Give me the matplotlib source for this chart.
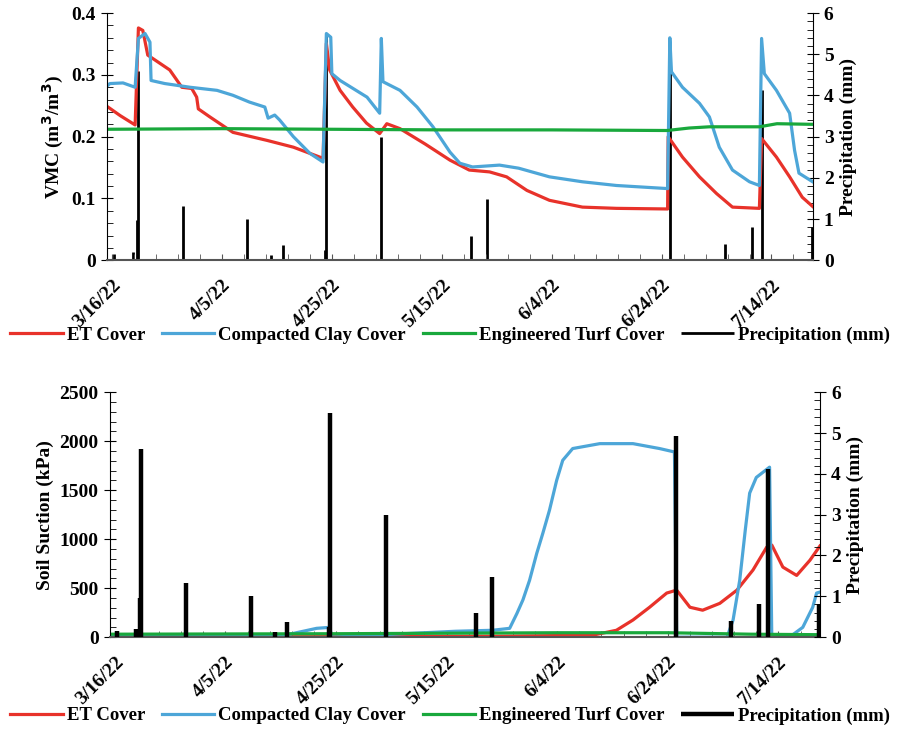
import numpy as np
import matplotlib
matplotlib.use("Agg")
import matplotlib.pyplot as plt
import matplotlib.dates as mdates
from matplotlib.ticker import MultipleLocator, FuncFormatter

plt.rcParams['font.family'] = ['Liberation Serif', 'DejaVu Serif']
plt.rcParams['font.weight'] = 'bold'

start = np.datetime64('2022-03-16T00:00')

def to_dates(days):
    return start + (np.array(days) * 24 * 60).astype('timedelta64[m]')

# --- VMC (m3/m3), x = days after 3/16/22 ---
et_vmc_day = [-0.9, 1.5, 4.2, 4.8, 5.6, 6.5, 10.5, 12.7, 14.5, 15.4, 15.7, 17.8, 22, 28.2, 33, 38.4,
              39, 39.6, 41.5, 43.8, 46.3, 48.7, 50, 52.4, 57, 61.5, 65, 68.7, 71.8, 75.5, 79.6,
              85.6, 91.8, 101.1, 101.2, 103.8, 106.9, 110, 112.9, 117.8, 118.2, 120.9, 123.3,
              125.6, 127.5]
et_vmc = [0.249, 0.234, 0.219, 0.376, 0.372, 0.332, 0.308, 0.28, 0.278, 0.264, 0.245, 0.232, 0.207,
          0.194, 0.183, 0.165, 0.351, 0.308, 0.275, 0.248, 0.222, 0.205, 0.221, 0.213, 0.188, 0.162,
          0.146, 0.143, 0.135, 0.113, 0.097, 0.086, 0.084, 0.083, 0.2, 0.167, 0.135, 0.108,
          0.086, 0.084, 0.197, 0.167, 0.135, 0.102, 0.087]

clay_vmc_day = [-0.9, -0.4, 2, 4.2, 4.8, 6, 6.9, 7.1, 9.6, 14.2, 19.1, 22, 25, 27.8, 28.4, 29.6,
                30.5, 33, 36, 38.4, 39, 39.8, 40, 41.5, 46.4, 48.7, 49, 49.3, 52.4, 55.5, 58.4,
                61.5, 63.3, 65.6, 70.5, 74, 79.6, 85.6, 91.8, 101.1, 101.5, 101.8, 103.8, 106.9,
                108.7, 110.5, 112.9, 116, 117.8, 118.2, 118.7, 120.9, 123.3, 124.2, 125, 127.5]
clay_vmc = [0.282, 0.286, 0.287, 0.280, 0.359, 0.367, 0.353, 0.291, 0.286, 0.280, 0.275, 0.267,
            0.256, 0.248, 0.230, 0.235, 0.227, 0.200, 0.173, 0.159, 0.367, 0.361, 0.302, 0.291,
            0.264, 0.238, 0.359, 0.289, 0.275, 0.248, 0.216, 0.175, 0.157, 0.151, 0.154, 0.149,
            0.135, 0.127, 0.121, 0.116, 0.360, 0.305, 0.280, 0.254, 0.232, 0.183, 0.146, 0.127,
            0.121, 0.359, 0.302, 0.275, 0.238, 0.178, 0.141, 0.127]

turf_vmc_day = [-0.9, 20, 40, 60, 80, 101, 105, 108.7, 117.8, 121, 127.5]
turf_vmc = [0.212, 0.213, 0.212, 0.211, 0.211, 0.210, 0.214, 0.216, 0.216, 0.221, 0.220]

# --- Soil suction (kPa) ---
et_suc_day = [-0.9, 40, 70, 86.4, 90.7, 93.7, 96.7, 99.8, 101.6, 104, 106.3, 109.4, 112.5, 115.4,
              117.9, 118.8, 120.8, 123.3, 125.7, 127.5]
et_suc = [0, 5, 10, 20, 70, 175, 305, 450, 480, 305, 275, 345, 480, 685, 920, 940, 715, 630, 785, 930]

clay_suc_day = [-0.9, 30, 36.5, 38.9, 39.2, 61.6, 68.3, 71.4, 72.7, 73.8, 75, 76.3, 77.4, 78.6,
                79.9, 81, 82.8, 87.7, 93.7, 98.5, 101.2, 101.6, 110.7, 111.8, 113, 114, 114.8,
                116, 118.4, 118.8, 122, 124.4, 126.2, 126.9, 127.5]
clay_suc = [10, 10, 90, 100, 0, 60, 70, 90, 240, 380, 580, 855, 1060, 1295, 1600, 1805, 1925,
            1975, 1975, 1925, 1890, 0, 0, 175, 580, 1090, 1470, 1630, 1735, 0, 0, 100, 305, 450, 460]

turf_suc_day = [-0.9, 40, 80, 100, 115, 127.5]
turf_suc = [30, 35, 45, 45, 30, 25]

# --- Precipitation (mm) ---
rain_day = [0.4, 3.8, 4.5, 4.8, 12.9, 24.6, 28.9, 31.1, 38.7, 38.9, 49, 65.3, 68.2, 101.5,
            111.5, 116.4, 118.2, 127.3]
rain_mm = [0.15, 0.2, 0.97, 4.6, 1.32, 1.0, 0.12, 0.36, 0.24, 5.5, 3.0, 0.58, 1.48, 4.93,
           0.4, 0.81, 4.13, 0.8]

x_start, x_end = -0.9, 127.5
tick_days = [0, 20, 40, 60, 80, 100, 120]

c_et = '#e8322a'
c_clay = '#4da6d8'
c_turf = '#19a83c'

fig = plt.figure(figsize=(9, 7.29), dpi=100)
ax1 = fig.add_axes([0.119, 0.643, 0.784, 0.339])
ax3 = fig.add_axes([0.122, 0.126, 0.789, 0.336])


def fmt_date(x, pos=None):
    d = mdates.num2date(x)
    return f"{d.month}/{d.day}/{d.strftime('%y')}"


def style(ax, axr, left_max, left_major, left_minor, rain_lw):
    ax.set_xlim(to_dates([x_start])[0], to_dates([x_end])[0])
    ax.set_xticks(to_dates(tick_days))
    ax.xaxis.set_minor_locator(mdates.DayLocator(interval=4))
    ax.xaxis.set_major_formatter(FuncFormatter(fmt_date))
    for lab in ax.get_xticklabels():
        lab.set_rotation(45)
        lab.set_ha('right')
        lab.set_rotation_mode('anchor')
    ax.tick_params(axis='x', which='both', direction='in', length=4, labelsize=14, pad=12,
                   color='#555555')
    ax.set_ylim(0, left_max)
    ax.yaxis.set_major_locator(MultipleLocator(left_major))
    ax.yaxis.set_minor_locator(MultipleLocator(left_minor))
    ax.tick_params(axis='y', which='major', direction='inout', length=9, labelsize=14)
    ax.tick_params(axis='y', which='minor', direction='in', length=4)
    axr.set_ylim(0, 6)
    axr.yaxis.set_major_locator(MultipleLocator(1))
    axr.yaxis.set_minor_locator(MultipleLocator(0.2))
    axr.tick_params(axis='y', which='major', direction='inout', length=9, labelsize=14)
    axr.tick_params(axis='y', which='minor', direction='in', length=4)
    axr.set_ylabel('Precipitation (mm)', fontsize=14, fontweight='bold')
    for a in (ax, axr):
        a.spines['top'].set_visible(False)
    ax.spines['right'].set_visible(False)
    ax.spines['bottom'].set_color('#555555')
    ax.spines['bottom'].set_linewidth(1.5)
    axr.spines['bottom'].set_visible(False)
    axr.spines['left'].set_visible(False)
    axr.vlines(to_dates(rain_day), 0, rain_mm, color='black', lw=rain_lw,
               label='Precipitation (mm)')


# top: VMC
ax2 = ax1.twinx()
ax1.plot(to_dates(et_vmc_day), et_vmc, color=c_et, lw=2.3, label='ET Cover')
ax1.plot(to_dates(clay_vmc_day), clay_vmc, color=c_clay, lw=2.3, label='Compacted Clay Cover')
ax1.plot(to_dates(turf_vmc_day), turf_vmc, color=c_turf, lw=2.3, label='Engineered Turf Cover')
style(ax1, ax2, 0.4, 0.1, 0.02, 2.0)
ax1.yaxis.set_major_formatter(FuncFormatter(lambda v, p: '0' if v == 0 else f'{v:.1f}'))
ax1.set_ylabel('VMC (m$^\\mathbf{3}$/m$^\\mathbf{3}$)', fontsize=14, fontweight='bold')
ax1.set_zorder(ax2.get_zorder() + 1)
ax1.patch.set_visible(False)

# bottom: soil suction
ax4 = ax3.twinx()
ax3.plot(to_dates(et_suc_day), et_suc, color=c_et, lw=2.3, label='ET Cover')
ax3.plot(to_dates(clay_suc_day), clay_suc, color=c_clay, lw=2.3, label='Compacted Clay Cover')
ax3.plot(to_dates(turf_suc_day), turf_suc, color=c_turf, lw=2.3, label='Engineered Turf Cover')
style(ax3, ax4, 2500, 500, 100, 3.2)
ax3.set_ylabel('Soil Suction (kPa)', fontsize=14, fontweight='bold')

for axl, axr, ypos in ((ax1, ax2, 0.54), (ax3, ax4, 0.018)):
    h1, l1 = axl.get_legend_handles_labels()
    h2, l2 = axr.get_legend_handles_labels()
    fig.legend(h1 + h2, l1 + l2, loc='center', bbox_to_anchor=(0.5, ypos), ncol=4,
               frameon=False, fontsize=13.5, handlelength=2.8, handletextpad=0.2,
               columnspacing=0.9, borderpad=0.1)

fig.savefig('out.png', dpi=100)
